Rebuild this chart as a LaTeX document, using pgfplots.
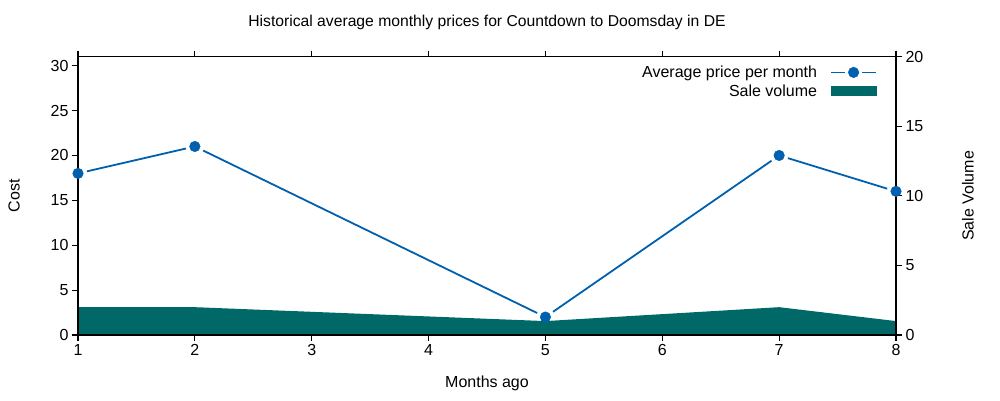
\documentclass[border=0pt]{standalone}
\usepackage{pgfplots}
\pgfplotsset{compat=1.18}
\usepackage{fontspec}
\setmainfont{Liberation Sans}

\definecolor{pricec}{RGB}{0,96,173}
\definecolor{volc}{RGB}{0,104,102}

\pgfplotstableread{
month price
1 18
2 21
5 2
7 20
8 16
}\pricedata

\pgfplotstableread{
month volume
1 2
2 2
5 1
7 2
8 1
}\volumedata

\pgfplotsset{
  base/.style={
    scale only axis,
    width=818pt, height=278.3pt,
    xmin=1, xmax=8,
    axis line style={line width=1.1pt},
    tick style={line width=1.1pt, black},
    major tick length=6pt,
    tick align=outside,
    font=\fontsize{16pt}{19pt}\selectfont,
    /pgf/number format/assume math mode=true,
    clip=false,
  },
}

\begin{document}
\begin{tikzpicture}
\path[use as bounding box] (-78pt,-65pt) rectangle (922pt,335pt);

% price line with white rings to leave gaps round the points
\begin{axis}[base, ymin=0, ymax=31, hide axis]
  \addplot[pricec, line width=1.8pt] table[x=month, y=price] {\pricedata};
  \addplot[only marks, mark=*, mark size=9pt, white]
    table[x=month, y=price] {\pricedata};
\end{axis}

% sale volume, right axis
\begin{axis}[base, ymin=0, ymax=20,
    axis x line=none, axis y line*=right,
    ytick={0,5,10,15,20},
    ylabel={Sale Volume},
    ylabel style={at={(axis description cs:1.088,0.5)}, anchor=center, rotate=0},
  ]
  \addplot[fill=volc, draw=none] table[x=month, y=volume] {\volumedata} \closedcycle;
\end{axis}

% frame, cost axis, marks and legend
\begin{axis}[base, ymin=0, ymax=31,
    xtick={1,...,8},
    xtick pos=both, xticklabel pos=lower,
    ytick={0,5,...,30}, ytick pos=left,
    title={Historical average monthly prices for Countdown to Doomsday in DE},
    title style={at={(axis description cs:0.5,1.103)}, anchor=center,
      font=\fontsize{15.7pt}{19pt}\selectfont},
    xlabel={Months ago},
    xlabel style={at={(axis description cs:0.5,-0.1725)}, anchor=center},
    ylabel={Cost},
    ylabel style={at={(axis description cs:-0.0782,0.5)}, anchor=center},
    legend style={draw=none, fill=none, at={(0.977,0.975)}, anchor=north east,
      inner sep=0pt, row sep=1.5pt,
      font=\fontsize{16pt}{19pt}\selectfont},
    legend cell align=right,
    legend plot pos=right,
  ]
  \addplot[only marks, mark=*, mark size=5.3pt, pricec, forget plot]
    table[x=month, y=price] {\pricedata};
  \addlegendimage{legend image code/.code={
      \path[draw=none, fill=none] (0pt,-5.3pt) rectangle (57pt,5.3pt);
      \draw[pricec, line width=1.8pt] (12pt,0pt) -- (26pt,0pt);
      \draw[pricec, line width=1.8pt] (43pt,0pt) -- (57pt,0pt);
      \fill[pricec] (34.5pt,0pt) circle (5.3pt);}}
  \addlegendentry{Average price per month}
  \addlegendimage{legend image code/.code={
      \path[draw=none, fill=none] (0pt,-5.3pt) rectangle (57pt,5.3pt);
      \fill[volc] (12pt,-4.5pt) rectangle (57pt,4.5pt);}}
  \addlegendentry{Sale volume}
\end{axis}
\end{tikzpicture}
\end{document}
